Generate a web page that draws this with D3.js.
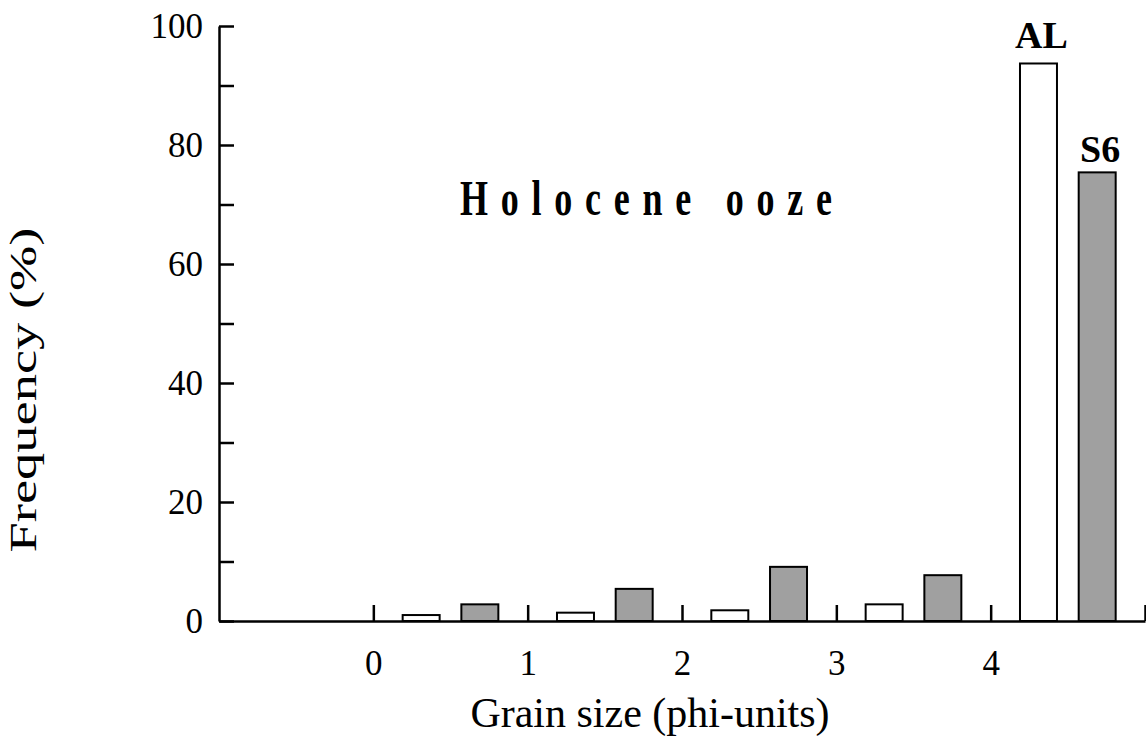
<!DOCTYPE html>
<html>
<head>
<meta charset="utf-8">
<script src="https://cdn.jsdelivr.net/npm/d3@7"></script>
<style>
  body { margin: 0; background: #fff; }
  svg text { font-family: "Liberation Serif", "Times New Roman", serif; fill: #000; }
</style>
</head>
<body>
<svg id="chart" width="1146" height="742"></svg>
<script>
// grain size classes, lower edge in phi-units (class -1..0 is empty)
const classEdges = [-1, 0, 1, 2, 3, 4]
const series = ["AL", "S6"]
// frequency (%) per class
const valuesAL = [0, 1.0, 1.4, 1.8, 2.8, 93.7]
const valuesS6 = [0, 2.8, 5.4, 9.1, 7.7, 75.4]
const xTickValues = [0, 1, 2, 3, 4, 5]
const xTickLabels = ["0", "1", "2", "3", "4", ""]
const yTickValues = d3.range(0, 101, 10)

const svg = d3.select("#chart")

const x = d3.scaleLinear().domain([-1, 5]).range([219, 1145])
const y = d3.scaleLinear().domain([0, 100]).range([621, 26])
// position of the two bars inside one class (in phi-units)
const inner = d3.scaleBand().domain(series).range([0.19, 0.81]).paddingInner(0.37)

const fills = { AL: "#ffffff", S6: "#a0a0a0" }

const rows = []
classEdges.forEach((edge, i) => {
  rows.push({ edge: edge, key: "AL", value: valuesAL[i] })
  rows.push({ edge: edge, key: "S6", value: valuesS6[i] })
})

// bars
svg.append("g")
  .selectAll("rect")
  .data(rows.filter(d => d.value > 0))
  .join("rect")
  .attr("x", d => x(d.edge + inner(d.key)))
  .attr("width", d => x(d.edge + inner(d.key) + inner.bandwidth()) - x(d.edge + inner(d.key)))
  .attr("y", d => y(d.value))
  .attr("height", d => y(0) - y(d.value))
  .attr("fill", d => fills[d.key])
  .attr("stroke", "#000")
  .attr("stroke-width", 2)

// y axis, ticks pointing inward
const yAxis = d3.axisLeft(y)
  .tickValues(yTickValues)
  .tickFormat(d => d % 20 == 0 ? d : "")
  .tickSizeInner(-15)
  .tickSizeOuter(0)
  .tickPadding(16)
svg.append("g")
  .attr("transform", `translate(${x(-1)},0)`)
  .call(yAxis)
  .call(g => g.selectAll("path, line").attr("stroke", "#000").attr("stroke-width", 2.5))
  .call(g => g.selectAll("text").attr("font-size", 35).attr("font-family", "Liberation Serif"))

// x axis, ticks pointing up
const xAxis = d3.axisBottom(x)
  .tickValues(xTickValues)
  .tickFormat((d, i) => xTickLabels[i])
  .tickSizeInner(-16)
  .tickSizeOuter(0)
  .tickPadding(29)
svg.append("g")
  .attr("transform", `translate(0,${y(0)})`)
  .call(xAxis)
  .call(g => g.selectAll("path, line").attr("stroke", "#000").attr("stroke-width", 2.5))
  .call(g => g.selectAll("text").attr("font-size", 35).attr("font-family", "Liberation Serif"))

// axis titles
svg.append("text")
  .attr("x", 650)
  .attr("y", 727)
  .attr("text-anchor", "middle")
  .attr("font-size", 42)
  .text("Grain size (phi-units)")

svg.append("text")
  .attr("transform", "translate(36,390) rotate(-90)")
  .attr("text-anchor", "middle")
  .attr("font-size", 38)
  .attr("textLength", 325)
  .attr("lengthAdjust", "spacingAndGlyphs")
  .text("Frequency (%)")

// series labels above the last class
const last = classEdges.length - 1
svg.append("g")
  .selectAll("text")
  .data(series)
  .join("text")
  .attr("x", k => x(classEdges[last] + inner(k) + inner.bandwidth() / 2) + 3)
  .attr("y", (k, i) => y(i == 0 ? valuesAL[last] : valuesS6[last]) - (i == 0 ? 15 : 10))
  .attr("text-anchor", "middle")
  .attr("font-size", 38)
  .attr("font-weight", "bold")
  .text(k => k)

// title, narrow bold face stretched out
svg.append("text")
  .attr("transform", "translate(460,215) scale(0.72,1)")
  .attr("font-size", 50)
  .attr("font-weight", "bold")
  .attr("textLength", 372 / 0.72)
  .attr("lengthAdjust", "spacing")
  .text("Holocene ooze")
</script>
</body>
</html>
